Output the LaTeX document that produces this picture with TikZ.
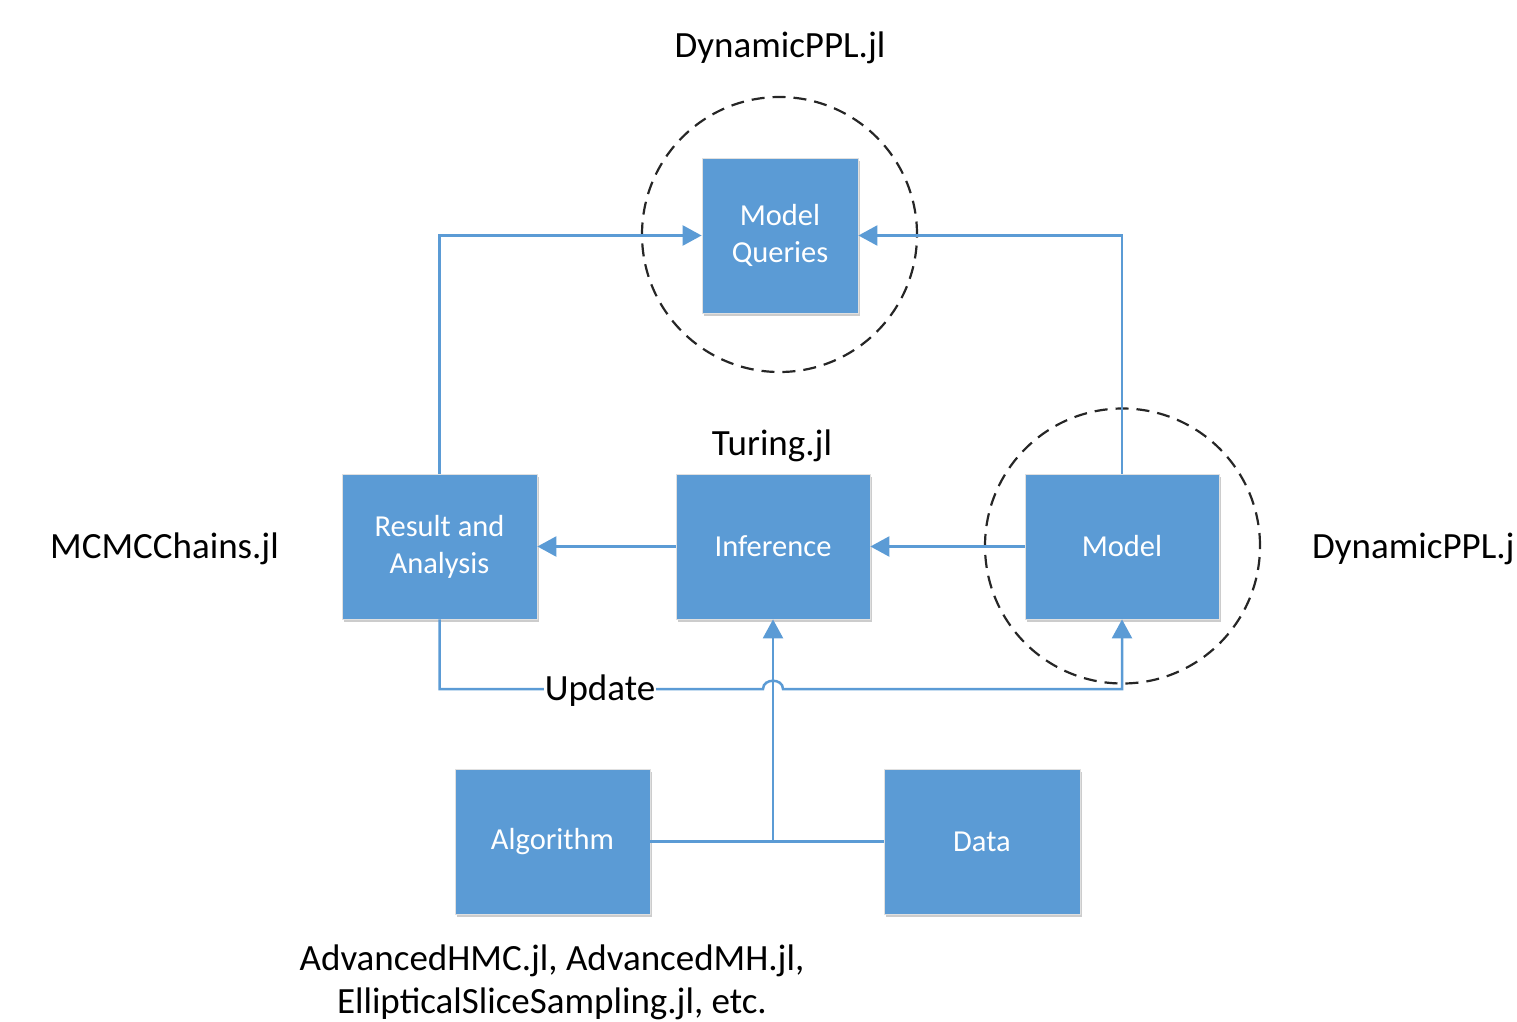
\documentclass[tikz,border=0pt]{standalone}
\usepackage{fontspec}
\setmainfont{Carlito}
\usetikzlibrary{arrows.meta,shadows}
\definecolor{boxblue}{HTML}{5B9BD5}
\begin{document}
\begin{tikzpicture}[x=1pt,y=-1pt,
  box/.style={rectangle, fill=boxblue, draw=black!12, line width=0.8pt, text=white,
    font=\fontsize{30.5}{37}\selectfont, align=center, inner sep=0pt,
    minimum width=195pt, minimum height=145pt,
    drop shadow={shadow xshift=2pt, shadow yshift=-3pt, opacity=0.2, fill=black}},
  lbl/.style={font=\fontsize{37}{44}\selectfont, inner sep=0pt, align=center},
  wire/.style={draw=boxblue, line width=2.5pt},
  conn/.style={wire, -{Triangle[length=19pt,width=20pt]}},
  ring/.style={circle, draw=black!85, line width=2.2pt, dash pattern=on 13pt off 8pt, minimum size=275pt, inner sep=0pt}
]
\useasboundingbox (0,0) rectangle (1517,1022);

% dashed circles
\node[ring] (c1) at (779.5,234.5) {};
\node[ring] (c2) at (1122.5,546) {};

% boxes
\node[box, minimum width=156pt, minimum height=155pt] (mq) at (780,235.5) {Model\\Queries};
\node[box] (res) at (439.5,546.5) {Result and\\Analysis};
\node[box, minimum width=194pt] (inf) at (773,546.5) {Inference};
\node[box, minimum width=194pt] (mod) at (1122,546.5) {Model};
\node[box] (alg) at (552.5,841.5) {Algorithm};
\node[box, minimum width=196pt] (dat) at (982,841.5) {Data};

% connectors
\draw[conn] (res.north) |- (mq.west);
\draw[conn] (mod.north) |- (mq.east);
\draw[conn] (mod.west) -- (inf.east);
\draw[conn] (inf.west) -- (res.east);

\coordinate (hopL) at (763,689);
\coordinate (hopR) at (783,689);
\draw[conn] (res.south) |- (hopL) .. controls (763,678) and (783,678) .. (hopR) -| (mod.south);

\draw[wire] (alg.east) -- (dat.west);
\coordinate (join) at (773,841);
\draw[conn] (join) -- (inf.south);

\node[lbl, fill=white, inner xsep=1pt, inner ysep=0pt] (upd) at (600,691) {Update};

% labels
\node[lbl, anchor=base] (t1) at (780,58) {DynamicPPL.jl};
\node[lbl, anchor=base] (t2) at (772,455) {Turing.jl};
\node[lbl, anchor=base west] (t3) at (50,558) {MCMCChains.jl};
\node[lbl, anchor=base west] (t4) at (1312,558) {DynamicPPL.j};
\node[lbl, anchor=base] (t5) at (552,970) {AdvancedHMC.jl, AdvancedMH.jl,};
\node[lbl, anchor=base] (t6) at (552,1013) {EllipticalSliceSampling.jl, etc.};
\end{tikzpicture}
\end{document}
